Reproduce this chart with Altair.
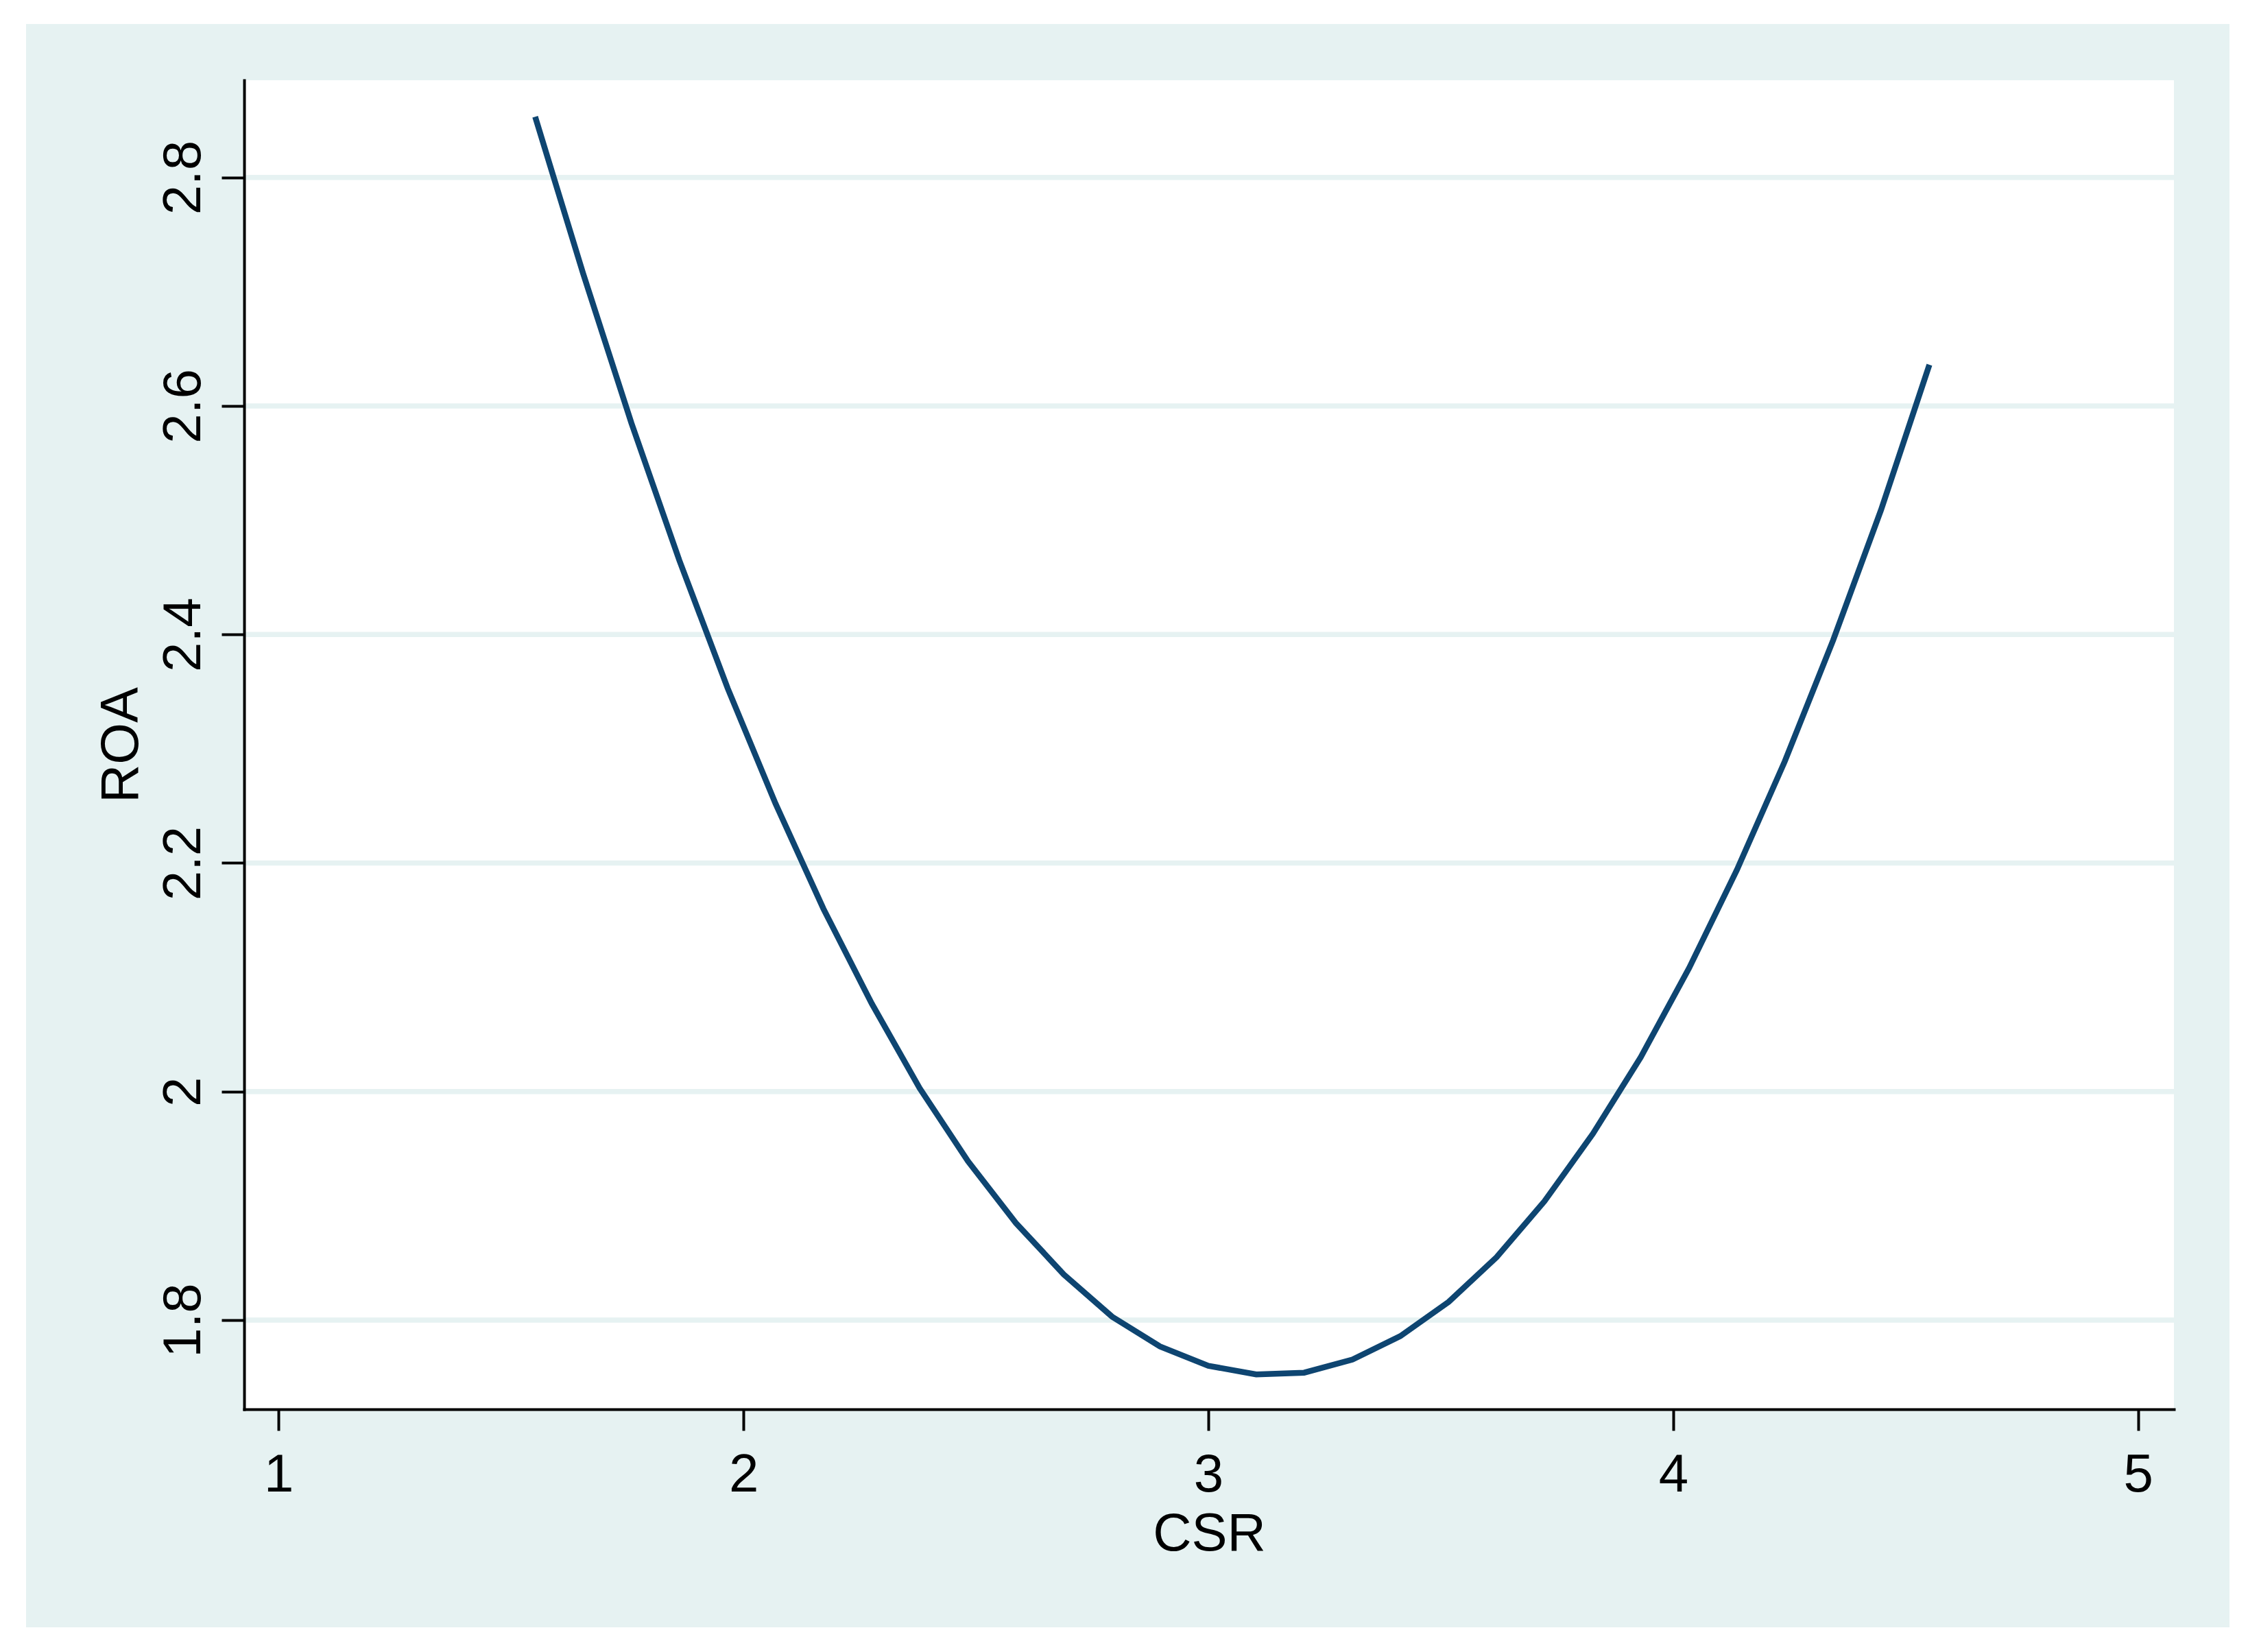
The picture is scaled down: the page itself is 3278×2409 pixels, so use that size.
import altair as alt
import pandas as pd

# Fitted curve (vertices of the polyline)
csr = [1.552, 1.655, 1.759, 1.862, 1.966, 2.069, 2.172, 2.276, 2.379, 2.483,
       2.586, 2.689, 2.793, 2.896, 3.000, 3.103, 3.206, 3.310, 3.413, 3.517,
       3.620, 3.723, 3.827, 3.930, 4.034, 4.137, 4.240, 4.344, 4.447, 4.551]
roa = [2.853, 2.716, 2.585, 2.465, 2.353, 2.252, 2.160, 2.077, 2.003, 1.939,
       1.885, 1.840, 1.803, 1.777, 1.760, 1.7525, 1.754, 1.7655, 1.786, 1.816,
       1.855, 1.904, 1.963, 2.030, 2.108, 2.194, 2.289, 2.395, 2.509, 2.636]

x_ticks = [1, 2, 3, 4, 5]
y_ticks = [1.8, 2.0, 2.2, 2.4, 2.6, 2.8]
x_domain = [0.926, 5.077]
y_domain = [1.722, 2.885]

W, H = 2814, 1938
TEAL = "#E6F2F2"
NAVY = "#0E4571"
FONT = "Liberation Sans"

df = pd.DataFrame({"CSR": csr, "ROA": roa})
grid_df = pd.DataFrame({"ROA": y_ticks})
one = pd.DataFrame({"a": [0]})

xs = alt.Scale(domain=x_domain, nice=False, zero=False)
ys = alt.Scale(domain=y_domain, nice=False, zero=False)

x_axis = alt.Axis(
    values=x_ticks, title="CSR", grid=False, format="d",
    tickSize=31, tickWidth=4, tickColor="black",
    domainColor="black", domainWidth=4, domainCap="square",
    labelFont=FONT, labelFontSize=78, labelColor="black", labelPadding=26,
    labelFlush=False, labelOverlap=False,
    titleFont=FONT, titleFontSize=78, titleFontWeight="normal", titleColor="black",
    titleBaseline="alphabetic", titleY=205, zindex=1,
)
y_axis = alt.Axis(
    values=y_ticks, title="ROA", grid=False, format="~g",
    tickSize=33, tickWidth=4, tickColor="black",
    domainColor="black", domainWidth=4, domainCap="square",
    labelFont=FONT, labelFontSize=78, labelColor="black", labelPadding=16,
    labelAngle=270, labelAlign="center", labelBaseline="bottom",
    labelFlush=False, labelOverlap=False,
    titleFont=FONT, titleFontSize=78, titleFontWeight="normal", titleColor="black",
    titleAngle=270, titleAlign="center", titleBaseline="alphabetic",
    titleX=-156, titleY=969, zindex=1,
)

bg = alt.Chart(one).mark_rect(color=TEAL).encode(
    x=alt.value(-318), x2=alt.value(2895), y=alt.value(-82), y2=alt.value(2256))
plotbg = alt.Chart(one).mark_rect(color="white").encode(
    x=alt.value(0), x2=alt.value(W), y=alt.value(0), y2=alt.value(H))
grid = alt.Chart(grid_df).mark_rule(color=TEAL, strokeWidth=7.5).encode(
    y=alt.Y("ROA:Q", scale=ys, axis=y_axis))
line = alt.Chart(df).mark_line(color=NAVY, strokeWidth=8.5).encode(
    x=alt.X("CSR:Q", scale=xs, axis=x_axis),
    y=alt.Y("ROA:Q", scale=ys, axis=y_axis))

chart = alt.layer(bg, plotbg, grid, line).properties(
    width=W, height=H,
    padding={"left": 348, "top": 109, "right": 100, "bottom": 345},
    autosize=alt.AutoSizeParams(type="none"),
    background="white",
).configure_view(stroke=None).configure(font=FONT)

chart.save("out.html", embed_options={"renderer": "svg", "actions": False})
